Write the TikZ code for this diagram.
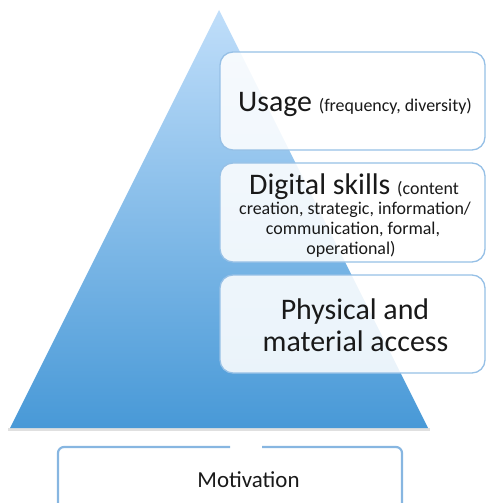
\documentclass[tikz,border=0pt]{standalone}
\usepackage{fontspec}
\setmainfont{Carlito}
\definecolor{boxline}{RGB}{150,192,230}
\definecolor{tritop}{RGB}{192,222,250}
\definecolor{tribot}{RGB}{72,153,215}
\definecolor{motline}{RGB}{135,182,225}
\begin{document}
\begin{tikzpicture}[x=1bp,y=-1bp,
  layer/.style={draw=boxline, line width=1.3bp, rounded corners=13bp, fill=white,
    fill opacity=0.88, minimum width=265bp, inner sep=0pt},
  bigtxt/.style={anchor=base, inner sep=0pt, text=black!90, font=\fontsize{30}{30}\selectfont},
  smalltxt/.style={anchor=base, inner sep=0pt, text=black!90, font=\fontsize{18}{20}\selectfont},
  mottxt/.style={anchor=base, inner sep=0pt, text=black!90, font=\fontsize{23}{23}\selectfont},
  motborder/.style={draw=motline, line width=2.2bp, rounded corners=6bp}
]
\useasboundingbox (0,0) rectangle (486,503);
% pyramid
\fill[black!12] (8,428) -- (430,428) -- (430,431) -- (8,431) -- cycle;
\shade[top color=tritop, bottom color=tribot] (219,10) -- (428,428) -- (10,428) -- cycle;
% layers
\node[layer, minimum height=98bp] (usage) at (352.5,101) {};
\node[layer, minimum height=99bp] (skills) at (352.5,212.5) {};
\node[layer, minimum height=98bp] (access) at (352.5,324) {};
% texts
\node[bigtxt] (usaget) at (355,112) {Usage {\fontsize{18}{20}\selectfont (frequency, diversity)}};
\node[bigtxt] (skillst1) at (354,195) {Digital skills {\fontsize{18}{20}\selectfont (content}};
\node[smalltxt] (skillst2) at (355,214) {creation, strategic, information/};
\node[smalltxt] (skillst3) at (353,234) {communication, formal,};
\node[smalltxt] (skillst4) at (351,254) {operational)};
\node[bigtxt] (accesst1) at (355,319) {Physical and};
\node[bigtxt] (accesst2) at (355.5,351) {material access};
% motivation
\draw[motborder] (230,447) -- (58,447) -- (58,515);
\draw[motborder] (262,447) -- (402,447) -- (402,515);
\node[mottxt] (mot) at (248.5,487) {Motivation};
\end{tikzpicture}
\end{document}
